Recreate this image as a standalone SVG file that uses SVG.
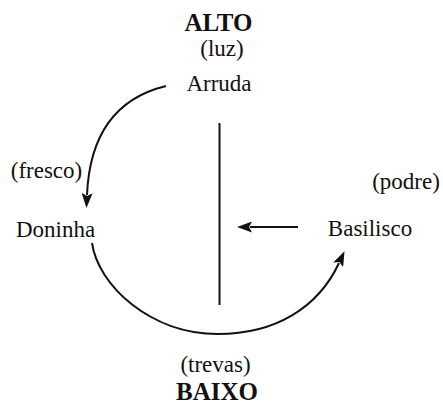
<svg xmlns="http://www.w3.org/2000/svg" width="443" height="406" viewBox="0 0 443 406">
  <style>
    .t { font-family: "Liberation Serif", "Times New Roman", serif; font-size: 23px; fill: #111; text-anchor: middle; }
    .h { font-family: "Liberation Serif", "Times New Roman", serif; font-size: 25px; font-weight: bold; fill: #111; text-anchor: middle; }
    .c { fill: none; stroke: #111; stroke-width: 2; }
  </style>
  <defs>
    <marker id="arrow" markerUnits="userSpaceOnUse" markerWidth="15" markerHeight="11" refX="2" refY="5.5" orient="auto" viewBox="0 0 15 11">
      <path d="M0,0 L15,5.5 L0,11 L3,5.5 Z" fill="#111"/>
    </marker>
  </defs>
  <rect width="443" height="406" fill="#fff"/>

  <g id="alto"><text class="h" x="218.5" y="31">ALTO</text></g>
  <g id="luz"><text class="t" x="222" y="56">(luz)</text></g>
  <g id="arruda"><text class="t" x="219" y="91">Arruda</text></g>
  <g id="fresco"><text class="t" x="46.5" y="178">(fresco)</text></g>
  <g id="doninha"><text class="t" x="55.5" y="237">Doninha</text></g>
  <g id="podre"><text class="t" x="406" y="189">(podre)</text></g>
  <g id="basilisco"><text class="t" x="370" y="236">Basilisco</text></g>
  <g id="trevas"><text class="t" x="215.5" y="372">(trevas)</text></g>
  <g id="baixo"><text class="h" x="217" y="400">BAIXO</text></g>

  <g id="connectors">
    <path class="c" d="M166,86 C125,96 90,125 87,195" marker-end="url(#arrow)"/>
    <path class="c" d="M92,243 C98,285 150,334 218,334 C275,334 318,308 339,263" marker-end="url(#arrow)"/>
    <path class="c" d="M298,227 L250,227" marker-end="url(#arrow)"/>
    <line class="c" x1="219.5" y1="123" x2="219.5" y2="305"/>
  </g>
</svg>
